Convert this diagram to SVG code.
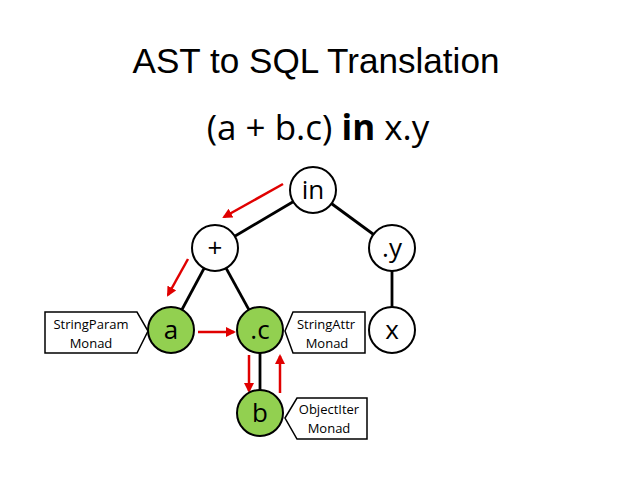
<svg xmlns="http://www.w3.org/2000/svg" width="638" height="479" viewBox="0 0 638 479">
<defs>
<style>
.title{font-family:"Liberation Sans",Arial,sans-serif;font-size:35px;fill:#000}
.sub{font-family:"Open Sans","Noto Sans",sans-serif;font-size:35px;fill:#000}
.node circle{stroke:#000;stroke-width:2;fill:#fff}
.node.g circle{fill:#92D050}
.node text{font-family:"Open Sans","Noto Sans",sans-serif;font-size:26px;text-anchor:middle;fill:#000}
.edge{stroke:#000;stroke-width:2.8;fill:none}
.red{stroke:#E00000;stroke-width:2.5;fill:none;marker-end:url(#ah)}
.call path{fill:#fff;stroke:#000;stroke-width:1.5}
.call text{font-family:"Open Sans","Noto Sans",sans-serif;font-size:13px;text-anchor:middle;fill:#000}
</style>
<marker id="ah" viewBox="0 0 10 10" refX="8" refY="5" markerWidth="4" markerHeight="4" orient="auto" markerUnits="strokeWidth">
<path d="M0,0 L10,5 L0,10 z" fill="#E00000"/>
</marker>
</defs>
<rect width="638" height="479" fill="#fff"/>
<text class="title" x="316" y="73" text-anchor="middle" textLength="367" lengthAdjust="spacingAndGlyphs">AST to SQL Translation</text>
<text class="sub" x="318" y="140" text-anchor="middle">(a + b.c) <tspan font-weight="bold">in</tspan> x.y</text>
<g id="connectors">
<line class="edge" x1="313" y1="190" x2="215" y2="248"/>
<line class="edge" x1="313" y1="190" x2="392" y2="248"/>
<line class="edge" x1="215" y1="248" x2="171" y2="330"/>
<line class="edge" x1="215" y1="248" x2="260" y2="330"/>
<line class="edge" x1="392" y1="248" x2="392" y2="330"/>
<line class="edge" x1="260" y1="330" x2="260" y2="413"/>
<line class="red" x1="283" y1="184" x2="224" y2="217"/>
<line class="red" x1="188" y1="259" x2="168" y2="295"/>
<line class="red" x1="198" y1="332" x2="234" y2="332"/>
<line class="red" x1="249" y1="355" x2="249" y2="391"/>
<line class="red" x1="280" y1="393" x2="280" y2="356"/>
</g>
<g id="n-in" class="node"><circle cx="313" cy="190" r="23"/><text x="313" y="199">in</text></g>
<g id="n-plus" class="node"><circle cx="215" cy="248" r="23"/><text x="215" y="257">+</text></g>
<g id="n-y" class="node"><circle cx="392" cy="248" r="23"/><text x="392" y="257">.y</text></g>
<g id="n-a" class="node g"><circle cx="171" cy="330" r="23"/><text x="171" y="339">a</text></g>
<g id="n-c" class="node g"><circle cx="260" cy="330" r="23"/><text x="260" y="339">.c</text></g>
<g id="n-x" class="node"><circle cx="392" cy="330" r="23"/><text x="392" y="339">x</text></g>
<g id="n-b" class="node g"><circle cx="260" cy="413" r="23"/><text x="260" y="422">b</text></g>
<g id="c-stringparam" class="call"><path d="M45,312 L137,312 L148,331 L137,353 L45,353 Z"/><text x="91" y="329">StringParam</text><text x="91" y="348">Monad</text></g>
<g id="c-stringattr" class="call"><path d="M285,331 L293,312 L365,312 L365,353 L293,353 Z"/><text x="326" y="329">StringAttr</text><text x="327" y="348">Monad</text></g>
<g id="c-objectiter" class="call"><path d="M285,418 L297,398 L367,398 L367,439 L297,439 Z"/><text x="329" y="414">ObjectIter</text><text x="329" y="433">Monad</text></g>
</svg>
